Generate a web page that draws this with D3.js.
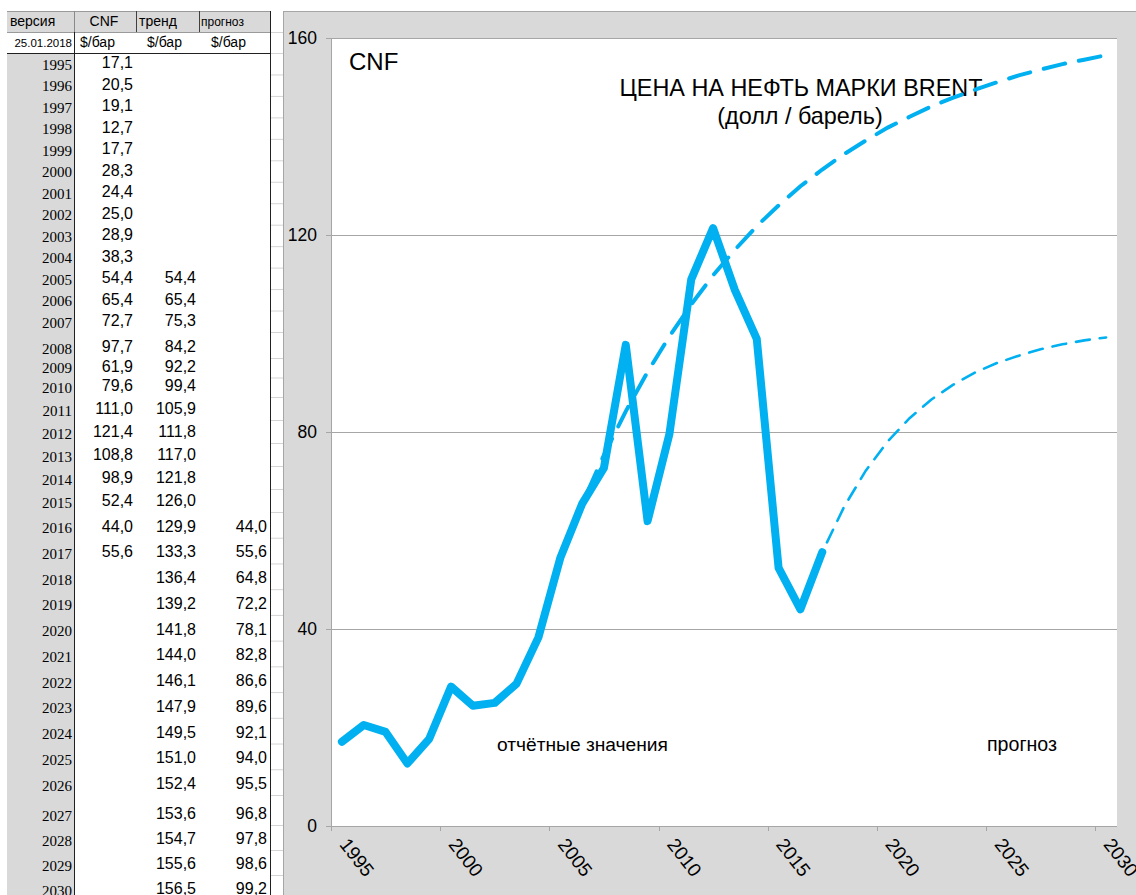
<!DOCTYPE html>
<html>
<head>
<meta charset="utf-8">
<script src="https://cdn.jsdelivr.net/npm/d3@7"></script>
<style>
  html, body { margin: 0; padding: 0; background: #ffffff; }
  svg { display: block; }
</style>
</head>
<body>
<svg id="chart" width="1136" height="895"></svg>
<script>
// ---------------- DATA ----------------
const years = [1995,1996,1997,1998,1999,2000,2001,2002,2003,2004,2005,2006,2007,2008,2009,2010,
               2011,2012,2013,2014,2015,2016,2017,2018,2019,2020,2021,2022,2023,2024,2025,2026,
               2027,2028,2029,2030];
const cnfValues = [17.1,20.5,19.1,12.7,17.7,28.3,24.4,25.0,28.9,38.3,54.4,65.4,72.7,97.7,61.9,79.6,
                   111.0,121.4,108.8,98.9,52.4,44.0,55.6,null,null,null,null,null,null,null,null,null,
                   null,null,null,null];
const trendValues = [null,null,null,null,null,null,null,null,null,null,54.4,65.4,75.3,84.2,92.2,99.4,
                     105.9,111.8,117.0,121.8,126.0,129.9,133.3,136.4,139.2,141.8,144.0,146.1,147.9,149.5,151.0,152.4,
                     153.6,154.7,155.6,156.5];
const forecastValues = [null,null,null,null,null,null,null,null,null,null,null,null,null,null,null,null,
                        null,null,null,null,null,44.0,55.6,64.8,72.2,78.1,82.8,86.6,89.6,92.1,94.0,95.5,
                        96.8,97.8,98.6,99.2];
const yTickValues = [0, 40, 80, 120, 160];
const xTickYears = [1995, 2000, 2005, 2010, 2015, 2020, 2025, 2030];
const headerTop = ["версия", "CNF", "тренд", "прогноз"];
const headerUnits = ["25.01.2018", "$/бар", "$/бар", "$/бар"];
const seriesTag = "CNF";
const chartTitle = "ЦЕНА НА НЕФТЬ МАРКИ BRENT";
const chartSubtitle = "(долл / барель)";
const noteActual = "отчётные значения";
const noteForecast = "прогноз";

// ---------------- SETUP ----------------
const svg = d3.select("#chart");
const SANS = "'Liberation Sans', Arial, sans-serif";
const SERIF = "'Liberation Serif', 'Times New Roman', serif";
const BLUE = "#00b0f0";
const GREY_BG = "#d9d9d9";
const fmt = v => d3.format(".1f")(v).replace(".", ",");

svg.append("rect").attr("width", 1136).attr("height", 895).attr("fill", "#ffffff");

// ---------------- TABLE ----------------
const rowTop = d3.scaleLinear()
  .domain([1995, 2008, 2009, 2011, 2016, 2027, 2028, 2031])
  .range([53, 332, 358, 397, 512, 795, 825, 900]);

const table = svg.append("g");
table.append("rect").attr("x", 7).attr("y", 53).attr("width", 67).attr("height", 842).attr("fill", GREY_BG);
table.append("rect").attr("x", 7).attr("y", 11).attr("width", 263).attr("height", 21).attr("fill", GREY_BG);

const gridEdges = [32, 53].concat(years.map(y => rowTop(y + 1)));
table.selectAll("line.strip").data(gridEdges).enter().append("line")
  .attr("x1", 270).attr("x2", 283).attr("y1", d => d + 0.5).attr("y2", d => d + 0.5)
  .attr("stroke", "#d4d4d4").attr("stroke-width", 1);

table.append("line").attr("x1", 7).attr("x2", 270).attr("y1", 11.5).attr("y2", 11.5).attr("stroke", "#9a9a9a");
table.append("line").attr("x1", 7).attr("x2", 270).attr("y1", 32.5).attr("y2", 32.5).attr("stroke", "#9a9a9a");
table.append("line").attr("x1", 7).attr("x2", 270).attr("y1", 53.5).attr("y2", 53.5).attr("stroke", "#202020");
[136.5, 199.5].forEach(x => table.append("line").attr("x1", x).attr("x2", x).attr("y1", 11).attr("y2", 32).attr("stroke", "#404040"));
table.append("line").attr("x1", 74.5).attr("x2", 74.5).attr("y1", 11).attr("y2", 32).attr("stroke", "#8a8a8a");
table.append("line").attr("x1", 74.5).attr("x2", 74.5).attr("y1", 32).attr("y2", 895).attr("stroke", "#202020");
table.append("line").attr("x1", 270.5).attr("x2", 270.5).attr("y1", 11).attr("y2", 895).attr("stroke", "#202020");

const headerX = [10, 104, 139, 201];
const headerAnchor = ["start", "middle", "start", "start"];
const headerSize = [14, 14, 14, 12];
table.selectAll("text.h1").data(headerTop).enter().append("text")
  .attr("x", (d, i) => headerX[i]).attr("y", 26)
  .attr("text-anchor", (d, i) => headerAnchor[i])
  .attr("font-family", SANS).attr("font-size", (d, i) => headerSize[i]).attr("fill", "#000")
  .text(d => d);
const unitX = [72, 80, 147, 211];
table.selectAll("text.h2").data(headerUnits).enter().append("text")
  .attr("x", (d, i) => unitX[i]).attr("y", 47)
  .attr("text-anchor", (d, i) => i === 0 ? "end" : "start")
  .attr("font-family", SANS).attr("font-size", (d, i) => i === 0 ? 11.5 : 14).attr("fill", "#000")
  .text(d => d);

const rows = table.selectAll("g.row").data(years).enter().append("g");
rows.append("text")
  .attr("x", 72).attr("y", d => rowTop(d + 1) - 4.5)
  .attr("text-anchor", "end").attr("font-family", SERIF).attr("font-size", 15).attr("fill", "#000")
  .text(d => d);
const colRight = [133, 196, 267];
[cnfValues, trendValues, forecastValues].forEach((arr, ci) => {
  rows.append("text")
    .attr("x", colRight[ci]).attr("y", d => rowTop(d + 1) - 6)
    .attr("text-anchor", "end").attr("font-family", SANS).attr("font-size", 16).attr("fill", "#000")
    .text((d, i) => arr[i] == null ? "" : fmt(arr[i]));
});

// ---------------- CHART ----------------
const chart = svg.append("g");
chart.append("rect").attr("x", 283).attr("y", 11).attr("width", 853).attr("height", 884).attr("fill", GREY_BG);
chart.append("line").attr("x1", 283).attr("x2", 1136).attr("y1", 11.5).attr("y2", 11.5).attr("stroke", "#a6a6a6");
chart.append("line").attr("x1", 283.5).attr("x2", 283.5).attr("y1", 11).attr("y2", 895).attr("stroke", "#a6a6a6");

const plot = { left: 331, right: 1117, top: 38, bottom: 826 };
chart.append("rect").attr("x", plot.left).attr("y", plot.top)
  .attr("width", plot.right - plot.left).attr("height", plot.bottom - plot.top).attr("fill", "#ffffff");

const x = d3.scaleLinear().domain([years[0], years[years.length - 1] + 1]).range([plot.left, plot.right]);
const y = d3.scaleLinear().domain([0, 160]).range([plot.bottom, plot.top]);

chart.append("g").attr("transform", `translate(${plot.left},0)`)
  .call(d3.axisLeft(y).tickValues(yTickValues.filter(v => v > 0)).tickSize(-(plot.right - plot.left)).tickFormat(""))
  .call(g => g.select(".domain").remove())
  .call(g => g.selectAll("line").attr("stroke", "#a6a6a6").attr("shape-rendering", "crispEdges"));

chart.append("g").attr("transform", `translate(${plot.left},0)`)
  .call(d3.axisLeft(y).tickValues(yTickValues).tickSize(5).tickPadding(9).tickFormat(d3.format("d")))
  .call(g => g.select(".domain").attr("stroke", "#a6a6a6").attr("shape-rendering", "crispEdges"))
  .call(g => g.selectAll("line").attr("stroke", "#a6a6a6").attr("shape-rendering", "crispEdges"))
  .call(g => g.selectAll("text").attr("font-family", SANS).attr("font-size", 17.5).attr("fill", "#000"));

chart.append("g").attr("transform", `translate(0,${plot.bottom})`)
  .call(d3.axisBottom(x).tickValues(xTickYears).tickSize(5).tickFormat(""))
  .call(g => g.select(".domain").attr("d", `M${plot.left},0.5H${plot.right}`).attr("stroke", "#a6a6a6"))
  .call(g => g.selectAll("line").attr("stroke", "#a6a6a6").attr("shape-rendering", "crispEdges"));

chart.selectAll("text.xl").data(xTickYears).enter().append("text")
  .attr("transform", d => `translate(${x(d + 0.5) + 8},${plot.bottom + 10}) rotate(52)`)
  .attr("dy", "0.75em")
  .attr("font-family", SANS).attr("font-size", 19).attr("fill", "#000")
  .text(d => d);

chart.append("text").attr("x", 349).attr("y", 70).attr("font-family", SANS).attr("font-size", 24).attr("fill", "#000").text(seriesTag);
chart.append("text").attr("x", 801).attr("y", 96).attr("text-anchor", "middle").attr("font-family", SANS).attr("font-size", 23.4).attr("fill", "#000").text(chartTitle);
chart.append("text").attr("x", 800).attr("y", 124).attr("text-anchor", "middle").attr("font-family", SANS).attr("font-size", 23.4).attr("fill", "#000").text(chartSubtitle);
chart.append("text").attr("x", 497).attr("y", 751).attr("font-family", SANS).attr("font-size", 19.2).attr("fill", "#000").text(noteActual);
chart.append("text").attr("x", 987).attr("y", 751).attr("font-family", SANS).attr("font-size", 19.6).attr("fill", "#000").text(noteForecast);

const toPts = arr => years.map((yr, i) => ({ yr, v: arr[i] })).filter(d => d.v != null);
const line = d3.line().x(d => x(d.yr + 0.5)).y(d => y(d.v));

chart.append("path").datum(toPts(forecastValues)).attr("d", line)
  .attr("fill", "none").attr("stroke", BLUE).attr("stroke-width", 2.6)
  .attr("stroke-dasharray", "14 10").attr("stroke-linecap", "round");
chart.append("path").datum(toPts(trendValues)).attr("d", line)
  .attr("fill", "none").attr("stroke", BLUE).attr("stroke-width", 4)
  .attr("stroke-dasharray", "22 14").attr("stroke-linecap", "round");
chart.append("path").datum(toPts(cnfValues)).attr("d", line)
  .attr("fill", "none").attr("stroke", BLUE).attr("stroke-width", 8)
  .attr("stroke-linejoin", "round").attr("stroke-linecap", "round");
</script>
</body>
</html>
